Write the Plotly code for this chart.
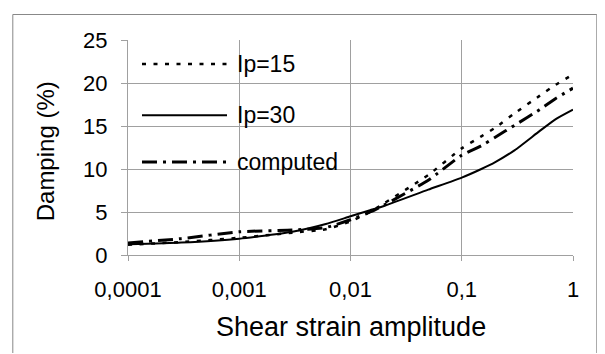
import plotly.graph_objects as go

# ---- data ----
strain = [0.0001, 0.0003, 0.001, 0.003, 0.006, 0.01, 0.015, 0.02, 0.05,
          0.1, 0.15, 0.2, 0.3, 0.5, 0.7, 1.0]
ip15 = [1.2, 1.5, 2.0, 2.6, 3.0, 3.9, 5.0, 6.0, 9.3,
        12.4, 13.8, 14.8, 16.5, 18.5, 19.8, 21.0]
ip30 = [1.25, 1.45, 1.9, 2.7, 3.6, 4.5, 5.2, 5.7, 7.6,
        9.0, 10.0, 10.8, 12.2, 14.4, 15.8, 16.9]
computed = [1.4, 1.9, 2.7, 2.9, 3.2, 4.1, 5.0, 5.8, 8.7,
            11.6, 12.7, 13.7, 15.1, 16.9, 18.2, 19.4]

series_names = ["Ip=15", "Ip=30", "computed"]
x_tickvals = [0.0001, 0.001, 0.01, 0.1, 1]
x_ticktext = ["0,0001", "0,001", "0,01", "0,1", "1"]
y_tickvals = [0, 5, 10, 15, 20, 25]

styles = [
    dict(color="black", width=2.5, dash="4px,7.5px"),
    dict(color="black", width=2, dash="solid"),
    dict(color="black", width=3, dash="15px,6px,3px,6px"),
]

FONT = "Liberation Sans, Arial, sans-serif"
GRID = "#a0a0a0"

# page offset: the browser puts the figure 8px in from the top-left corner
OFF = 8
W, H = 605 - OFF, 354 - OFF - 1
# plot-area geometry in page pixels
L, R, T, B = 127.7, 572.7, 40, 255
PW, PH = R - L, B - T


def px(xp):
    return (xp - L) / PW


def py(yp):
    return (B - yp) / PH


fig = go.Figure()
for name, ys, st in zip(series_names, [ip15, ip30, computed], styles):
    fig.add_trace(go.Scatter(x=strain, y=ys, mode="lines", name=name,
                             line=dict(st, shape="spline", smoothing=0.5),
                             showlegend=False))

shapes = []
annotations = []

# outer border
shapes.append(dict(type="rect", xref="paper", yref="paper",
                   x0=px(12.5), x1=px(596.5), y0=py(420), y1=py(14.5),
                   line=dict(color="#888888", width=1), fillcolor="rgba(0,0,0,0)",
                   layer="above"))
# legend background box (hides gridlines behind it)
shapes.append(dict(type="rect", xref="paper", yref="paper",
                   x0=px(128.6), x1=px(347), y0=py(187), y1=py(39),
                   line=dict(width=0), fillcolor="white", layer="between"))

leg_y = [64, 115.3, 162]
for name, st, yy in zip(series_names, styles, leg_y):
    shapes.append(dict(type="line", xref="paper", yref="paper",
                       x0=px(141.7), x1=px(226.7), y0=py(yy), y1=py(yy),
                       line=st, layer="above"))
    annotations.append(dict(text=name, xref="paper", yref="paper",
                            x=px(235), y=py(yy), xanchor="left", yanchor="middle",
                            showarrow=False,
                            font=dict(family=FONT, size=23, color="black")))

annotations.append(dict(text="Shear strain amplitude", xref="paper", yref="paper",
                        x=px(351), y=py(327), xanchor="center", yanchor="middle",
                        showarrow=False, font=dict(family=FONT, size=27, color="black")))
annotations.append(dict(text="Damping (%)", xref="paper", yref="paper",
                        x=px(45), y=py(151), xanchor="center", yanchor="middle",
                        textangle=-90, showarrow=False,
                        font=dict(family=FONT, size=24, color="black")))

fig.update_layout(
    width=W, height=H,
    margin=dict(l=L - OFF, r=W - (R - OFF), t=T - OFF, b=H - (B - OFF), pad=0),
    paper_bgcolor="white", plot_bgcolor="white",
    shapes=shapes, annotations=annotations,
    xaxis=dict(type="log", range=[-4, 0], tickvals=x_tickvals, ticktext=x_ticktext,
               showgrid=True, gridcolor=GRID, gridwidth=1,
               showline=True, linecolor=GRID, linewidth=1,
               ticks="outside", ticklen=5, tickcolor=GRID, tickwidth=1,
               ticklabelstandoff=10,
               tickfont=dict(family=FONT, size=22, color="black"), zeroline=False),
    yaxis=dict(range=[0, 25], tickvals=y_tickvals,
               showgrid=True, gridcolor=GRID, gridwidth=1,
               showline=True, linecolor=GRID, linewidth=1,
               ticks="outside", ticklen=6, tickcolor=GRID, tickwidth=1,
               ticklabelstandoff=9,
               tickfont=dict(family=FONT, size=22, color="black"), zeroline=False),
)

fig.write_html("out.html")
